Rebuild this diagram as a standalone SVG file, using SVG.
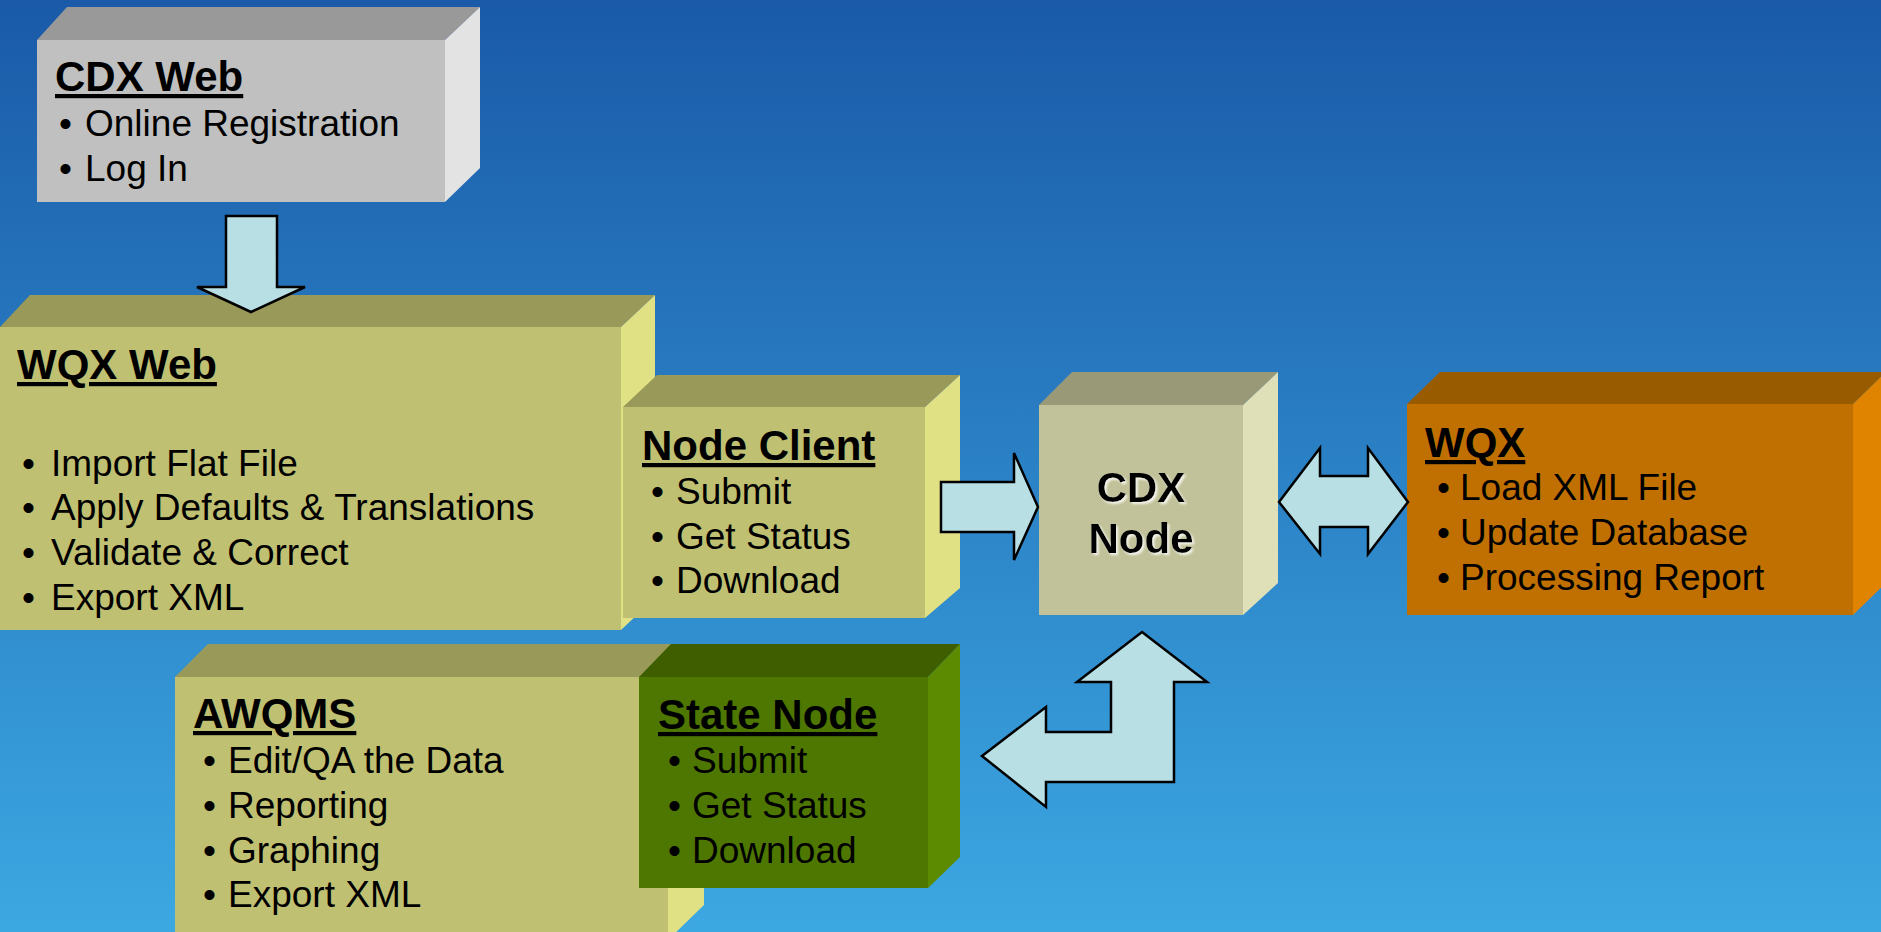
<svg xmlns="http://www.w3.org/2000/svg" width="1881" height="932" viewBox="0 0 1881 932">
<defs>
<linearGradient id="bg" x1="0" y1="0" x2="0" y2="1">
<stop offset="0" stop-color="#1a5aa8"/>
<stop offset="1" stop-color="#3ca8e2"/>
</linearGradient>
<filter id="glow" x="-20%" y="-20%" width="140%" height="140%">
<feDropShadow dx="2" dy="2" stdDeviation="1" flood-color="#ffffff" flood-opacity="0.8"/>
</filter>
</defs>
<style>
text{font-family:"Liberation Sans",Arial,sans-serif;fill:#000}
.t{font-size:42px;font-weight:bold;text-decoration:underline}
.i{font-size:37px}
.c{font-size:42px;font-weight:bold;text-anchor:middle}
.arrow{fill:#b8e0e4;stroke:#000;stroke-width:2.5;stroke-linejoin:miter}
.gt{fill:#999999}.gf{fill:#c0c0c0}.gr{fill:#e3e3e3}
.yt{fill:#999959}.yf{fill:#c0c072}.yr{fill:#e0e084}
.kt{fill:#999977}.kf{fill:#c2c29a}.kr{fill:#e0e0b8}
.ot{fill:#985b00}.of{fill:#c07000}.or{fill:#e08400}
.st{fill:#3e5e00}.sf{fill:#4d7700}.sr{fill:#5c8a00}
</style>
<rect width="1881" height="932" fill="url(#bg)"/>

<g id="cdx-web">
<polygon class="gt" points="37,40 67,7 480,7 445,40"/>
<polygon class="gr" points="445,40 480,7 480,168 445,202"/>
<rect class="gf" x="37" y="40" width="408" height="162"/>
<text class="t" x="55" y="91">CDX Web</text>
<text class="i" x="59" y="136">•<tspan x="85">Online Registration</tspan></text>
<text class="i" x="59" y="181">•<tspan x="85">Log In</tspan></text>
</g>

<g id="wqx-web">
<polygon class="yt" points="0,327 30,295 655,295 621,327"/>
<polygon class="yr" points="621,327 655,295 655,598 621,630"/>
<rect class="yf" x="0" y="327" width="621" height="303"/>
<text class="t" x="17" y="379">WQX Web</text>
<text class="i" x="22" y="476">•<tspan x="51">Import Flat File</tspan></text>
<text class="i" x="22" y="520">•<tspan x="51">Apply Defaults &amp; Translations</tspan></text>
<text class="i" x="22" y="565">•<tspan x="51">Validate &amp; Correct</tspan></text>
<text class="i" x="22" y="610">•<tspan x="51">Export XML</tspan></text>
</g>

<g id="node-client">
<polygon class="yt" points="623,407 657,375 960,375 925,407"/>
<polygon class="yr" points="925,407 960,375 960,588 925,618"/>
<rect class="yf" x="623" y="407" width="302" height="211"/>
<text class="t" x="642" y="460">Node Client</text>
<text class="i" x="651" y="504">•<tspan x="676">Submit</tspan></text>
<text class="i" x="651" y="549">•<tspan x="676">Get Status</tspan></text>
<text class="i" x="651" y="593">•<tspan x="676">Download</tspan></text>
</g>

<g id="cdx-node">
<polygon class="kt" points="1039,405 1072,372 1278,372 1243,405"/>
<polygon class="kr" points="1243,405 1278,372 1278,583 1243,615"/>
<rect class="kf" x="1039" y="405" width="204" height="210"/>
<g filter="url(#glow)">
<text class="c" x="1141" y="502">CDX</text>
<text class="c" x="1141" y="553">Node</text>
</g>
</g>

<g id="wqx">
<polygon class="ot" points="1407,404 1440,372 1886,372 1853,404"/>
<polygon class="or" points="1853,404 1886,372 1886,583 1853,615"/>
<rect class="of" x="1407" y="404" width="446" height="211"/>
<text class="t" x="1425" y="457">WQX</text>
<text class="i" x="1437" y="500">•<tspan x="1460">Load XML File</tspan></text>
<text class="i" x="1437" y="545">•<tspan x="1460">Update Database</tspan></text>
<text class="i" x="1437" y="590">•<tspan x="1460">Processing Report</tspan></text>
</g>

<g id="awqms">
<polygon class="yt" points="175,677 208,644 704,644 668,677"/>
<polygon class="yr" points="668,677 704,644 704,905 668,940"/>
<rect class="yf" x="175" y="677" width="493" height="263"/>
<text class="t" x="193" y="728">AWQMS</text>
<text class="i" x="203" y="773">•<tspan x="228">Edit/QA the Data</tspan></text>
<text class="i" x="203" y="818">•<tspan x="228">Reporting</tspan></text>
<text class="i" x="203" y="863">•<tspan x="228">Graphing</tspan></text>
<text class="i" x="203" y="907">•<tspan x="228">Export XML</tspan></text>
</g>

<g id="state-node">
<polygon class="st" points="639,677 671,644 960,644 928,677"/>
<polygon class="sr" points="928,677 960,644 960,857 928,888"/>
<rect class="sf" x="639" y="677" width="289" height="211"/>
<text class="t" x="658" y="729">State Node</text>
<text class="i" x="668" y="773">•<tspan x="692">Submit</tspan></text>
<text class="i" x="668" y="818">•<tspan x="692">Get Status</tspan></text>
<text class="i" x="668" y="863">•<tspan x="692">Download</tspan></text>
</g>

<g id="connectors">
<polygon class="arrow" points="226,216 277,216 277,287 305,287 251,312 197,287 226,287"/>
<polygon class="arrow" points="941,482 1014,482 1014,453 1038,507 1014,560 1014,532 941,532"/>
<polygon class="arrow" points="1279,502 1320,448 1320,476 1368,476 1368,448 1408,502 1368,554 1368,527 1320,527 1320,554"/>
<polygon class="arrow" points="1142,632 1207,682 1174,682 1174,782 1046,782 1046,807 982,756 1046,707 1046,732 1111,732 1111,682 1077,682"/>
</g>
</svg>
